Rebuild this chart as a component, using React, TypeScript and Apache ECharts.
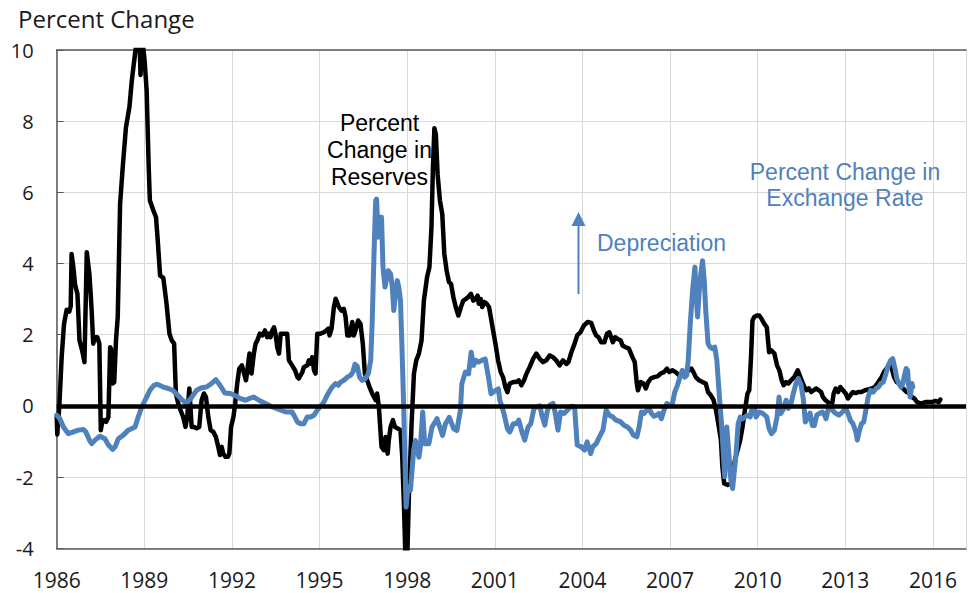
import React, { useEffect, useRef } from 'react';
import * as echarts from 'echarts';

// x-axis: years (tick every 3 years), y-axis: percent change
const yearMin = 1986;
const yearMax = 2017.13;
const yearStep = 3;
const valueMin = -4;
const valueMax = 10;
const valueStep = 2;

// Percent change in reserves (black line) — [year, value]
const reserves: [number, number][] = [
  [1986.0, -0.3], [1986.02, -0.8], [1986.09, 0.0], [1986.17, 1.37], [1986.25, 2.3], [1986.34, 2.7], [1986.43, 2.65], [1986.48, 2.8],
  [1986.51, 4.27], [1986.57, 3.9], [1986.63, 3.4], [1986.71, 3.15], [1986.78, 1.84], [1986.87, 1.56], [1986.95, 1.23], [1987.03, 4.32],
  [1987.12, 3.7], [1987.19, 2.78], [1987.25, 1.75], [1987.31, 1.93], [1987.39, 1.93], [1987.46, 1.75], [1987.51, -0.68], [1987.57, -0.4],
  [1987.63, -0.4], [1987.69, -0.45], [1987.77, -0.31], [1987.83, 1.65], [1987.88, 1.56], [1987.92, 0.63], [1987.97, 0.67], [1988.03, 1.84],
  [1988.09, 2.5], [1988.17, 5.67], [1988.26, 6.7], [1988.37, 7.82], [1988.49, 8.4], [1988.57, 9.13], [1988.68, 9.88], [1988.76, 10.4],
  [1988.83, 10.4], [1988.87, 9.3], [1988.92, 10.4], [1989.01, 9.7], [1989.08, 8.85], [1989.15, 6.7], [1989.19, 5.77], [1989.31, 5.49],
  [1989.4, 5.3], [1989.46, 4.64], [1989.54, 3.66], [1989.65, 3.6], [1989.76, 2.87], [1989.86, 2.03], [1989.94, 1.84], [1990.02, 1.75],
  [1990.08, 0.35], [1990.16, 0.07], [1990.24, -0.12], [1990.33, -0.31], [1990.41, -0.59], [1990.47, -0.31], [1990.54, 0.49], [1990.62, -0.59],
  [1990.7, -0.59], [1990.79, -0.63], [1990.88, -0.59], [1990.96, 0.16], [1991.04, 0.35], [1991.11, 0.25], [1991.19, -0.31], [1991.27, -0.68],
  [1991.36, -0.73], [1991.45, -0.87], [1991.53, -1.15], [1991.59, -1.38], [1991.65, -1.15], [1991.7, -1.34], [1991.78, -1.43], [1991.86, -1.43],
  [1991.91, -1.34], [1991.97, -0.59], [1992.05, -0.31], [1992.11, 0.07], [1992.18, 0.63], [1992.25, 1.05], [1992.34, 1.14], [1992.42, 0.9],
  [1992.48, 0.72], [1992.52, 0.95], [1992.6, 1.47], [1992.67, 0.91], [1992.75, 1.47], [1992.81, 1.75], [1992.87, 1.84], [1992.95, 2.03],
  [1993.04, 1.98], [1993.13, 2.12], [1993.21, 1.93], [1993.27, 2.03], [1993.32, 1.93], [1993.38, 2.12], [1993.44, 2.21], [1993.49, 2.03],
  [1993.55, 1.65], [1993.61, 1.47], [1993.67, 2.03], [1993.78, 2.03], [1993.89, 2.03], [1993.95, 1.28], [1994.06, 1.14], [1994.16, 1.0],
  [1994.24, 0.81], [1994.29, 0.77], [1994.41, 0.95], [1994.46, 1.09], [1994.58, 1.14], [1994.63, 1.28], [1994.69, 1.19], [1994.75, 1.37],
  [1994.81, 1.0], [1994.86, 0.91], [1994.92, 2.03], [1995.03, 2.03], [1995.15, 2.07], [1995.23, 2.12], [1995.3, 2.17], [1995.34, 1.98],
  [1995.41, 2.17], [1995.49, 2.78], [1995.55, 3.01], [1995.66, 2.78], [1995.75, 2.68], [1995.83, 2.73], [1995.89, 2.5], [1995.95, 1.98],
  [1996.03, 1.98], [1996.12, 2.36], [1996.17, 1.98], [1996.23, 2.12], [1996.32, 2.4], [1996.4, 2.31], [1996.48, 1.75], [1996.55, 0.91],
  [1996.63, 0.72], [1996.71, 0.53], [1996.8, 0.35], [1996.92, 0.16], [1996.97, 0.35], [1997.03, -0.03], [1997.12, -1.15], [1997.2, -1.24],
  [1997.26, -0.87], [1997.33, -1.34], [1997.37, -0.96], [1997.43, -0.59], [1997.51, -0.4], [1997.58, -0.59], [1997.69, -0.64], [1997.77, -0.68],
  [1997.83, -1.43], [1997.89, -2.83], [1997.94, -4.3], [1998.0, -4.3], [1998.06, -2.46], [1998.15, -0.5], [1998.23, 0.91], [1998.31, 1.28],
  [1998.4, 1.47], [1998.49, 1.84], [1998.57, 2.96], [1998.68, 3.62], [1998.76, 3.9], [1998.83, 5.02], [1998.88, 6.7], [1998.93, 7.8],
  [1998.98, 7.63], [1999.04, 6.51], [1999.12, 5.77], [1999.2, 5.39], [1999.27, 4.27], [1999.35, 3.8], [1999.43, 3.48], [1999.5, 3.43],
  [1999.58, 3.06], [1999.66, 2.78], [1999.75, 2.54], [1999.84, 2.78], [1999.92, 2.96], [2000.0, 3.0], [2000.09, 3.06], [2000.18, 3.15],
  [2000.26, 2.96], [2000.34, 3.0], [2000.41, 3.1], [2000.45, 2.87], [2000.52, 3.0], [2000.57, 2.78], [2000.64, 2.92], [2000.72, 2.87],
  [2000.8, 2.78], [2000.86, 2.5], [2000.94, 2.12], [2001.02, 1.75], [2001.11, 1.28], [2001.2, 0.95], [2001.28, 0.81], [2001.36, 0.53],
  [2001.43, 0.39], [2001.51, 0.63], [2001.63, 0.67], [2001.74, 0.67], [2001.82, 0.72], [2001.91, 0.58], [2002.0, 0.72], [2002.08, 0.9],
  [2002.19, 1.09], [2002.31, 1.32], [2002.42, 1.47], [2002.54, 1.32], [2002.65, 1.23], [2002.76, 1.28], [2002.88, 1.42], [2002.99, 1.37],
  [2003.1, 1.28], [2003.22, 1.14], [2003.33, 1.28], [2003.45, 1.18], [2003.52, 1.23], [2003.62, 1.51], [2003.73, 1.75], [2003.82, 1.98],
  [2003.93, 2.07], [2004.05, 2.26], [2004.18, 2.36], [2004.3, 2.33], [2004.39, 2.12], [2004.47, 1.98], [2004.55, 1.93], [2004.64, 1.79],
  [2004.75, 1.79], [2004.84, 2.03], [2004.92, 2.07], [2004.98, 1.93], [2005.04, 1.79], [2005.12, 1.93], [2005.21, 1.88], [2005.31, 1.84],
  [2005.37, 1.7], [2005.48, 1.65], [2005.59, 1.61], [2005.71, 1.37], [2005.79, 1.23], [2005.86, 0.63], [2005.9, 0.44], [2005.99, 0.67],
  [2006.09, 0.63], [2006.17, 0.49], [2006.25, 0.67], [2006.34, 0.77], [2006.45, 0.81], [2006.57, 0.83], [2006.68, 0.91], [2006.79, 0.95],
  [2006.89, 1.05], [2006.97, 0.95], [2007.08, 1.0], [2007.19, 0.95], [2007.31, 0.86], [2007.42, 0.91], [2007.54, 0.95], [2007.65, 1.0],
  [2007.73, 1.05], [2007.8, 0.95], [2007.88, 0.81], [2007.99, 0.72], [2008.11, 0.67], [2008.22, 0.63], [2008.3, 0.39], [2008.39, 0.3],
  [2008.49, 0.16], [2008.57, -0.12], [2008.65, -0.5], [2008.74, -0.96], [2008.79, -1.71], [2008.85, -2.18], [2008.97, -2.22], [2009.08, -2.18],
  [2009.14, -1.9], [2009.22, -1.52], [2009.31, -1.24], [2009.4, -0.96], [2009.48, -0.59], [2009.56, -0.12], [2009.65, 0.35], [2009.71, 0.44],
  [2009.77, 1.37], [2009.82, 2.4], [2009.88, 2.5], [2009.97, 2.54], [2010.05, 2.54], [2010.13, 2.45], [2010.22, 2.31], [2010.31, 2.21],
  [2010.39, 1.51], [2010.47, 1.56], [2010.57, 1.47], [2010.66, 1.14], [2010.74, 1.0], [2010.82, 0.72], [2010.89, 0.58], [2010.97, 0.67],
  [2011.05, 0.63], [2011.14, 0.72], [2011.25, 0.81], [2011.37, 1.0], [2011.46, 0.81], [2011.56, 0.6], [2011.66, 0.44], [2011.75, 0.49],
  [2011.83, 0.39], [2011.91, 0.44], [2012.0, 0.49], [2012.09, 0.44], [2012.17, 0.39], [2012.23, 0.25], [2012.32, 0.16], [2012.4, 0.11],
  [2012.46, 0.05], [2012.55, 0.07], [2012.6, 0.35], [2012.67, 0.49], [2012.75, 0.39], [2012.83, 0.53], [2012.92, 0.44], [2013.01, 0.35],
  [2013.09, 0.21], [2013.17, 0.3], [2013.26, 0.39], [2013.36, 0.36], [2013.44, 0.39], [2013.55, 0.39], [2013.67, 0.44], [2013.78, 0.46],
  [2013.9, 0.49], [2014.01, 0.53], [2014.13, 0.67], [2014.24, 0.81], [2014.32, 0.95], [2014.41, 1.05], [2014.51, 1.14], [2014.59, 1.05],
  [2014.67, 0.81], [2014.76, 0.67], [2014.85, 0.63], [2014.93, 0.53], [2015.01, 0.46], [2015.1, 0.39], [2015.2, 0.35], [2015.28, 0.25],
  [2015.36, 0.21], [2015.45, 0.11], [2015.54, 0.08], [2015.62, 0.07], [2015.74, 0.11], [2015.85, 0.11], [2015.97, 0.11], [2016.08, 0.14],
  [2016.2, 0.11], [2016.25, 0.18],
];

// Percent change in exchange rate (blue line) — [year, value]
const exchangeRate: [number, number][] = [
  [1986.0, -0.26], [1986.11, -0.36], [1986.23, -0.59], [1986.4, -0.78], [1986.57, -0.73], [1986.74, -0.68], [1986.91, -0.66], [1987.0, -0.73],
  [1987.12, -0.96], [1987.2, -1.06], [1987.31, -0.96], [1987.48, -0.85], [1987.65, -0.92], [1987.77, -1.1], [1987.92, -1.22], [1988.0, -1.15],
  [1988.11, -0.92], [1988.28, -0.82], [1988.45, -0.68], [1988.68, -0.59], [1988.79, -0.31], [1988.91, -0.03], [1989.08, 0.25], [1989.19, 0.44],
  [1989.33, 0.58], [1989.44, 0.61], [1989.65, 0.53], [1989.82, 0.49], [1989.97, 0.44], [1990.11, 0.33], [1990.28, 0.18], [1990.45, 0.07],
  [1990.59, 0.21], [1990.79, 0.44], [1990.96, 0.51], [1991.13, 0.53], [1991.3, 0.63], [1991.45, 0.74], [1991.59, 0.58], [1991.76, 0.36],
  [1991.93, 0.35], [1992.1, 0.3], [1992.27, 0.21], [1992.47, 0.16], [1992.6, 0.21], [1992.75, 0.25], [1992.92, 0.16], [1993.15, 0.07],
  [1993.38, -0.03], [1993.61, -0.1], [1993.84, -0.17], [1994.06, -0.17], [1994.12, -0.26], [1994.24, -0.45], [1994.35, -0.5], [1994.46, -0.5],
  [1994.58, -0.31], [1994.69, -0.31], [1994.81, -0.26], [1994.92, -0.12], [1995.03, -0.01], [1995.15, 0.11], [1995.23, 0.25], [1995.32, 0.39],
  [1995.43, 0.53], [1995.55, 0.63], [1995.64, 0.58], [1995.72, 0.67], [1995.83, 0.72], [1995.95, 0.81], [1996.06, 0.86], [1996.14, 0.95],
  [1996.21, 1.17], [1996.29, 1.11], [1996.37, 0.81], [1996.46, 0.72], [1996.57, 0.77], [1996.67, 0.91], [1996.75, 1.28], [1996.8, 2.31],
  [1996.86, 4.18], [1996.92, 5.77], [1996.95, 5.81], [1997.01, 4.74], [1997.05, 5.3], [1997.12, 5.3], [1997.17, 3.9], [1997.24, 3.34],
  [1997.28, 3.52], [1997.35, 3.8], [1997.43, 3.71], [1997.49, 3.34], [1997.54, 2.68], [1997.6, 3.15], [1997.66, 3.52], [1997.71, 3.34],
  [1997.77, 2.96], [1997.83, 1.37], [1997.88, -0.03], [1997.96, -2.84], [1998.03, -2.28], [1998.11, -2.37], [1998.22, -1.25], [1998.28, -0.97],
  [1998.4, -1.44], [1998.45, -1.16], [1998.53, -0.17], [1998.6, -1.06], [1998.74, -1.06], [1998.85, -0.59], [1999.02, -0.36], [1999.21, -0.83],
  [1999.31, -0.5], [1999.44, -0.32], [1999.59, -0.64], [1999.7, -0.69], [1999.82, -0.13], [1999.87, 0.62], [1999.99, 0.95], [2000.1, 0.9],
  [2000.19, 1.51], [2000.27, 1.14], [2000.35, 1.28], [2000.44, 1.23], [2000.55, 1.28], [2000.67, 1.32], [2000.78, 0.81], [2000.87, 0.34],
  [2001.01, 0.43], [2001.12, 0.48], [2001.17, 0.16], [2001.25, -0.03], [2001.34, -0.31], [2001.43, -0.64], [2001.51, -0.73], [2001.63, -0.5],
  [2001.74, -0.5], [2001.82, -0.4], [2001.91, -0.68], [2002.02, -0.96], [2002.14, -0.59], [2002.23, -0.5], [2002.34, -0.07], [2002.42, -0.03],
  [2002.54, 0.0], [2002.61, -0.26], [2002.71, -0.54], [2002.8, -0.12], [2002.88, 0.02], [2002.99, 0.07], [2003.07, -0.21], [2003.16, -0.68],
  [2003.25, -0.17], [2003.37, -0.21], [2003.48, -0.12], [2003.62, -0.01], [2003.73, -0.03], [2003.82, -1.1], [2003.96, -1.15], [2004.07, -1.24],
  [2004.16, -1.01], [2004.28, -1.34], [2004.35, -1.15], [2004.47, -1.06], [2004.58, -0.87], [2004.7, -0.68], [2004.81, -0.12], [2004.92, -0.26],
  [2005.04, -0.31], [2005.15, -0.4], [2005.31, -0.45], [2005.42, -0.54], [2005.54, -0.59], [2005.65, -0.68], [2005.74, -0.82], [2005.86, -0.87],
  [2005.94, -0.59], [2006.02, -0.17], [2006.11, -0.21], [2006.2, -0.12], [2006.28, -0.07], [2006.36, -0.21], [2006.45, -0.29], [2006.54, -0.26],
  [2006.62, -0.21], [2006.7, -0.36], [2006.79, -0.12], [2006.89, 0.07], [2007.0, 0.02], [2007.08, 0.07], [2007.16, 0.39], [2007.25, 0.58],
  [2007.34, 0.81], [2007.42, 1.0], [2007.5, 0.81], [2007.57, 0.86], [2007.62, 1.28], [2007.69, 2.31], [2007.77, 3.24], [2007.85, 3.9],
  [2007.89, 3.15], [2007.94, 2.5], [2007.99, 3.15], [2008.05, 3.71], [2008.11, 4.08], [2008.17, 3.52], [2008.22, 2.68], [2008.3, 1.75],
  [2008.37, 1.65], [2008.45, 1.61], [2008.53, 1.65], [2008.6, 1.28], [2008.68, 0.35], [2008.76, -0.5], [2008.83, -1.43], [2008.87, -1.99],
  [2008.94, -0.59], [2009.02, -1.43], [2009.08, -2.08], [2009.14, -2.32], [2009.19, -1.9], [2009.25, -1.43], [2009.33, -0.5], [2009.4, -0.31],
  [2009.48, -0.36], [2009.56, -0.31], [2009.65, -0.26], [2009.74, -0.31], [2009.82, -0.03], [2009.88, -0.03], [2009.94, -0.31], [2010.05, -0.17],
  [2010.17, -0.21], [2010.31, -0.31], [2010.39, -0.64], [2010.47, -0.78], [2010.57, -0.68], [2010.66, -0.31], [2010.73, 0.25], [2010.79, -0.21],
  [2010.89, -0.07], [2010.97, 0.16], [2011.05, -0.07], [2011.14, 0.07], [2011.23, 0.39], [2011.31, 0.63], [2011.39, 0.77], [2011.48, 0.6],
  [2011.56, 0.2], [2011.63, -0.45], [2011.72, -0.33], [2011.79, -0.2], [2011.87, -0.55], [2011.94, -0.55], [2012.02, -0.26], [2012.11, -0.21],
  [2012.21, -0.17], [2012.29, -0.26], [2012.34, -0.36], [2012.4, -0.12], [2012.46, -0.01], [2012.55, -0.12], [2012.67, -0.21], [2012.78, -0.26],
  [2012.9, -0.17], [2013.01, -0.07], [2013.09, -0.21], [2013.17, -0.4], [2013.26, -0.5], [2013.36, -0.73], [2013.41, -0.96], [2013.47, -0.73],
  [2013.55, -0.5], [2013.63, -0.45], [2013.7, -0.12], [2013.78, 0.25], [2013.86, 0.44], [2013.95, 0.39], [2014.05, 0.49], [2014.13, 0.53],
  [2014.21, 0.63], [2014.3, 0.67], [2014.39, 0.91], [2014.47, 1.14], [2014.55, 1.28], [2014.62, 1.33], [2014.7, 1.05], [2014.76, 0.77],
  [2014.83, 0.63], [2014.9, 0.53], [2014.97, 0.63], [2015.01, 0.81], [2015.08, 1.05], [2015.13, 1.0], [2015.17, 0.53], [2015.22, 0.25],
  [2015.28, 0.63], [2015.31, 0.53],
];

const titleText = 'Percent Change';
const reservesLabel = 'Percent\nChange in\nReserves';
const exchangeLabel = 'Percent Change in\nExchange Rate';
const depreciationLabel = 'Depreciation';

const BLUE = '#4F81BD';
const AXIS = '#595959';
const GRID = '#d9d9d9';
const TICK_FONT = '"Open Sans", "Noto Sans", sans-serif';
const NOTE_FONT = '"Liberation Sans", Arial, sans-serif';

export default function App() {
  const ref = useRef<HTMLDivElement>(null);

  useEffect(() => {
    if (!ref.current) return;
    const chart = echarts.init(ref.current, null, { renderer: 'svg' });
    const axisLineStyle = { color: AXIS, width: 1.5 };
    chart.setOption({
      animation: false,
      backgroundColor: '#ffffff',
      grid: { left: 56.7, top: 50, right: 0, bottom: 44.7, containLabel: false },
      xAxis: [
        {
          type: 'value',
          min: yearMin,
          max: yearMax,
          interval: yearStep,
          axisLine: { show: true, onZero: false, lineStyle: axisLineStyle },
          axisTick: { show: false },
          axisLabel: {
            formatter: (v: number) => (Number.isInteger(v) ? String(v) : ''),
            fontFamily: TICK_FONT,
            fontSize: 21,
            lineHeight: 22,
            color: '#1a1a1a',
            margin: 21,
          },
          splitLine: { show: true, lineStyle: { color: GRID, width: 1 } },
        },
        {
          type: 'value',
          position: 'top',
          min: yearMin,
          max: yearMax,
          interval: yearStep,
          axisLine: { show: true, onZero: false, lineStyle: axisLineStyle },
          axisTick: { show: false },
          axisLabel: { show: false },
          splitLine: { show: false },
        },
      ],
      yAxis: {
        type: 'value',
        min: valueMin,
        max: valueMax,
        interval: valueStep,
        axisLine: { show: true, onZero: false, lineStyle: axisLineStyle },
        axisTick: { show: true, inside: true, length: 7, lineStyle: { color: AXIS, width: 1 } },
        axisLabel: { fontFamily: TICK_FONT, fontSize: 20, color: '#1a1a1a', margin: 23 },
        splitLine: { show: true, lineStyle: { color: GRID, width: 1 } },
      },
      series: [
        {
          name: 'Reserves',
          type: 'line',
          xAxisIndex: 0,
          data: reserves,
          symbol: 'none',
          clip: true,
          lineStyle: { color: '#000000', width: 4.5, join: 'round', cap: 'round' },
          z: 3,
          markLine: {
            silent: true,
            symbol: 'none',
            label: { show: false },
            lineStyle: { color: '#000000', width: 4.5, type: 'solid' },
            data: [{ yAxis: 0 }],
          },
        },
        {
          name: 'Exchange Rate',
          type: 'line',
          xAxisIndex: 0,
          data: exchangeRate,
          symbol: 'none',
          clip: true,
          lineStyle: { color: BLUE, width: 5, join: 'round', cap: 'round' },
          z: 4,
        },
      ],
      graphic: [
        {
          type: 'text',
          x: 18,
          y: 18,
          style: {
            text: titleText,
            fontFamily: TICK_FONT,
            fontSize: 24,
            fill: '#1a1a1a',
            align: 'left',
            verticalAlign: 'middle',
          },
        },
        {
          type: 'text',
          x: 379.5,
          y: 150,
          z: 10,
          style: {
            text: reservesLabel,
            fontFamily: NOTE_FONT,
            fontSize: 23,
            lineHeight: 26.7,
            fill: '#000000',
            align: 'center',
            verticalAlign: 'middle',
          },
        },
        {
          type: 'text',
          x: 845,
          y: 185,
          z: 10,
          style: {
            text: exchangeLabel,
            fontFamily: NOTE_FONT,
            fontSize: 23,
            lineHeight: 26.7,
            fill: BLUE,
            align: 'center',
            verticalAlign: 'middle',
          },
        },
        {
          type: 'text',
          x: 597,
          y: 243,
          z: 10,
          style: {
            text: depreciationLabel,
            fontFamily: NOTE_FONT,
            fontSize: 23,
            fill: BLUE,
            align: 'left',
            verticalAlign: 'middle',
          },
        },
        {
          type: 'line',
          z: 10,
          shape: { x1: 578.5, y1: 294, x2: 578.5, y2: 222 },
          style: { stroke: BLUE, lineWidth: 2 },
        },
        {
          type: 'polygon',
          z: 10,
          shape: { points: [[578.5, 212], [571.5, 226], [585.5, 226]] },
          style: { fill: BLUE },
        },
      ],
    });
    return () => chart.dispose();
  }, []);

  return (
    <div
      ref={ref}
      style={{ position: 'fixed', left: 0, top: 0, width: 969, height: 593, background: '#ffffff' }}
    />
  );
}
